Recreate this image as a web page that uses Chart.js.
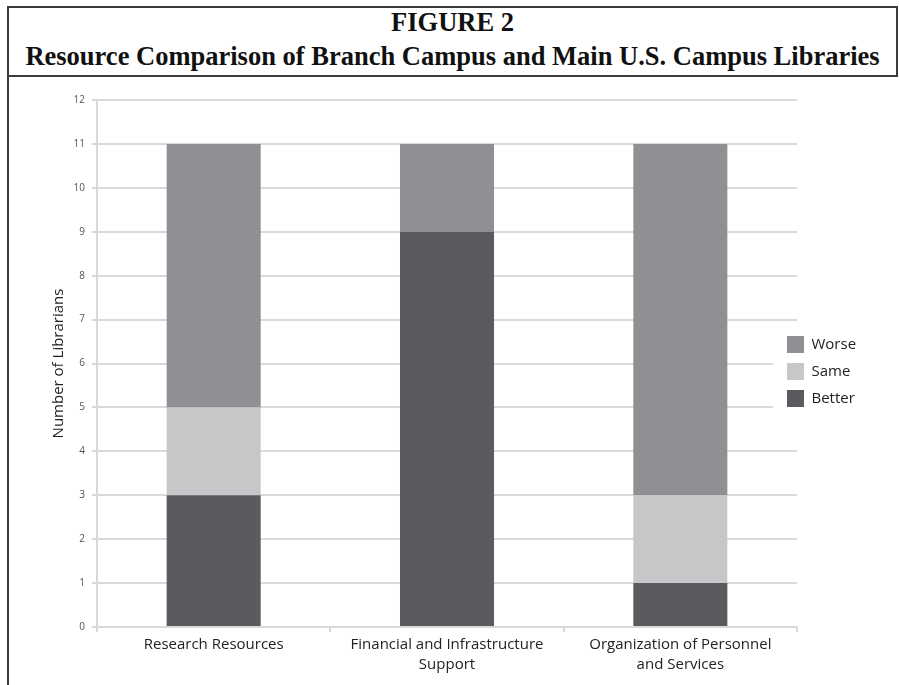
<!DOCTYPE html>
<html>
<head>
<meta charset="utf-8">
<script src="https://cdn.jsdelivr.net/npm/chart.js"></script>
<style>
  html, body { margin: 0; padding: 0; background: #fff; }
  body { width: 899px; height: 685px; position: relative; overflow: hidden; }
  #leftLine { position: absolute; left: 7px; top: 6px; width: 2px; height: 679px; background: #3c3c3c; }
  #head { position: absolute; left: 7px; top: 6px; width: 891px; height: 71px; box-sizing: border-box; border: 2px solid #3c3c3c; }
  .ttl { position: absolute; left: 7px; width: 891px; text-align: center; font-family: "Liberation Serif", "Times New Roman", serif; font-weight: bold; font-size: 26.5px; line-height: 26.5px; color: #111; white-space: nowrap; }
  #t1 { top: 9px; }
  #t2 { top: 43px; }
  #wrap { position: absolute; left: 9px; top: 77px; width: 890px; height: 608px; }
</style>
</head>
<body>
<div id="leftLine"></div>
<div id="head"></div>
<div class="ttl" id="t1">FIGURE 2</div>
<div class="ttl" id="t2">Resource Comparison of Branch Campus and Main U.S. Campus Libraries</div>
<div id="wrap"><canvas id="chart" width="890" height="608"></canvas></div>
<script>
// Chart data
const categories = ['Research Resources', ['Financial and Infrastructure', 'Support'], ['Organization of Personnel', 'and Services']];
const betterCounts = [3, 9, 1];
const sameCounts = [2, 0, 2];
const worseCounts = [6, 2, 8];
const yAxisTitle = 'Number of Librarians';

const gridColor = '#d9d9d9';
const uiFont = '"Open Sans", "Noto Sans", sans-serif';

// Legend sits over the right edge of the plot, on a white patch (like Excel)
const legendOverlay = {
    id: 'legendOverlay',
    afterLayout(chart) {
        const lg = chart.legend;
        lg.left = chart.chartArea.right - 20;
        lg.width = 100;
        lg.right = lg.left + lg.width;
        lg.top = 249;
        lg.bottom = lg.top + 130;
    },
    afterDatasetsDraw(chart) {
        const ctx = chart.ctx;
        const lg = chart.legend;
        ctx.save();
        ctx.fillStyle = '#fff';
        ctx.fillRect(lg.left - 4, lg.top + 2, 110, 88);
        ctx.restore();
        lg.draw();
    }
};

const ctx = document.getElementById('chart').getContext('2d');
new Chart(ctx, {
    type: 'bar',
    data: {
        labels: categories,
        datasets: [
            { label: 'Better', data: betterCounts, backgroundColor: '#5a5b5e' },
            { label: 'Same', data: sameCounts, backgroundColor: '#c6c7c9' },
            { label: 'Worse', data: worseCounts, backgroundColor: '#8f9093' }
        ]
    },
    options: {
        responsive: false,
        animation: false,
        devicePixelRatio: 1,
        layout: { padding: { top: 23, right: 42, bottom: 0, left: 0 } },
        datasets: {
            bar: { barPercentage: 0.403, categoryPercentage: 1 }
        },
        plugins: {
            title: { display: false },
            tooltip: { enabled: false },
            legend: {
                position: 'right',
                align: 'start',
                reverse: true,
                maxWidth: 60,
                labels: {
                    boxWidth: 17,
                    boxHeight: 17,
                    padding: 10,
                    color: '#222',
                    font: { family: uiFont, size: 15 }
                }
            }
        },
        scales: {
            x: {
                stacked: true,
                afterFit: (scale) => { scale.height = 58; },
                grid: { drawOnChartArea: false, drawTicks: true, tickLength: 5, color: gridColor, lineWidth: 2 },
                border: { color: gridColor, width: 2 },
                ticks: {
                    color: '#222',
                    padding: 3,
                    maxRotation: 0,
                    font: { family: uiFont, size: 15, lineHeight: 1.33 }
                }
            },
            y: {
                stacked: true,
                min: 0,
                max: 12,
                afterFit: (scale) => { scale.width = 88; },
                grid: { color: gridColor, lineWidth: 2, tickLength: 5 },
                border: { color: gridColor, width: 2 },
                ticks: {
                    stepSize: 1,
                    color: '#555',
                    padding: 7,
                    font: { family: uiFont, size: 10 }
                },
                title: {
                    display: true,
                    text: yAxisTitle,
                    color: '#222',
                    padding: { top: 41, bottom: 0 },
                    font: { family: uiFont, size: 15 }
                }
            }
        }
    },
    plugins: [legendOverlay]
});
</script>
</body>
</html>
